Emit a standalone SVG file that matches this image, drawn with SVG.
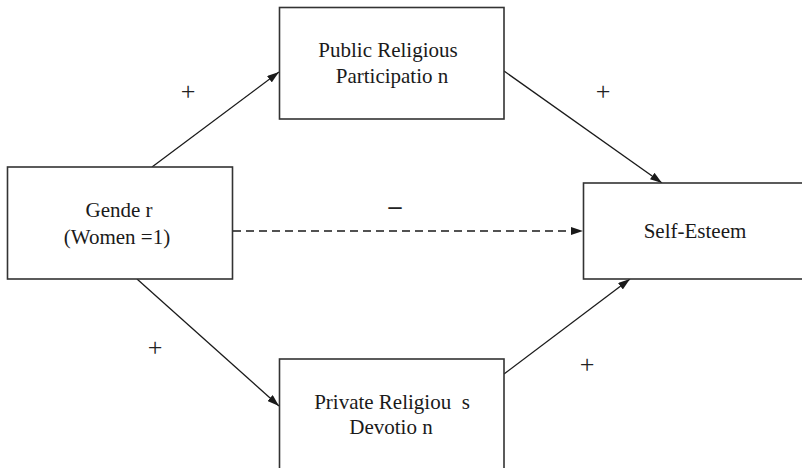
<svg xmlns="http://www.w3.org/2000/svg" width="802" height="468" viewBox="0 0 802 468">
  <defs>
    <marker id="arrow" viewBox="0 0 12 8" refX="12" refY="4" markerWidth="12" markerHeight="8" markerUnits="userSpaceOnUse" orient="auto">
      <path d="M0,0 L12,4 L0,8 Z" fill="#1a1a1a"/>
    </marker>
    <style>
      .box { fill: #ffffff; stroke: #333333; stroke-width: 1.6; }
      .label { font-family: "Liberation Serif", "Times New Roman", serif; font-size: 21px; fill: #1a1a1a; text-anchor: middle; white-space: pre; }
      .sign { font-family: "Liberation Serif", "Times New Roman", serif; font-size: 26px; fill: #222222; text-anchor: middle; }
      .edge { fill: none; stroke: #1a1a1a; stroke-width: 1.3; marker-end: url(#arrow); }
      .dashed { stroke-dasharray: 8 5; }
    </style>
  </defs>

  <rect x="0" y="0" width="802" height="468" fill="#ffffff"/>

  <!-- connectors -->
  <g id="connectors">
    <line class="edge" x1="152" y1="167" x2="279" y2="72"/>
    <line class="edge" x1="504" y1="71" x2="662" y2="183"/>
    <line class="edge" x1="137" y1="279" x2="279" y2="406"/>
    <line class="edge" x1="504" y1="374" x2="630" y2="279"/>
    <line class="edge dashed" x1="233" y1="231" x2="583" y2="231"/>
  </g>

  <!-- path signs -->
  <g id="signs">
    <text class="sign" x="188" y="100">+</text>
    <text class="sign" x="603" y="100">+</text>
    <text class="sign" x="155" y="356">+</text>
    <text class="sign" x="587" y="373">+</text>
    <text class="sign" x="395" y="214" font-size="28" font-weight="bold">–</text>
  </g>

  <g id="gender">
    <rect class="box" x="7.5" y="167" width="225" height="112"/>
    <text class="label" x="119" y="217">Gende r</text>
    <text class="label" x="117" y="244">(Women =1)</text>
  </g>

  <g id="public">
    <rect class="box" x="279.5" y="7.5" width="224.5" height="111.5"/>
    <text class="label" x="388" y="57">Public Religious</text>
    <text class="label" x="392" y="83">Participatio n</text>
  </g>

  <g id="self-esteem">
    <rect class="box" x="583.5" y="183" width="230" height="96"/>
    <text class="label" x="695" y="238">Self-Esteem</text>
  </g>

  <g id="private">
    <rect class="box" x="279.5" y="359" width="224.5" height="120"/>
    <text class="label" x="392" y="409">Private Religiou  s</text>
    <text class="label" x="391" y="434">Devotio n</text>
  </g>
</svg>
